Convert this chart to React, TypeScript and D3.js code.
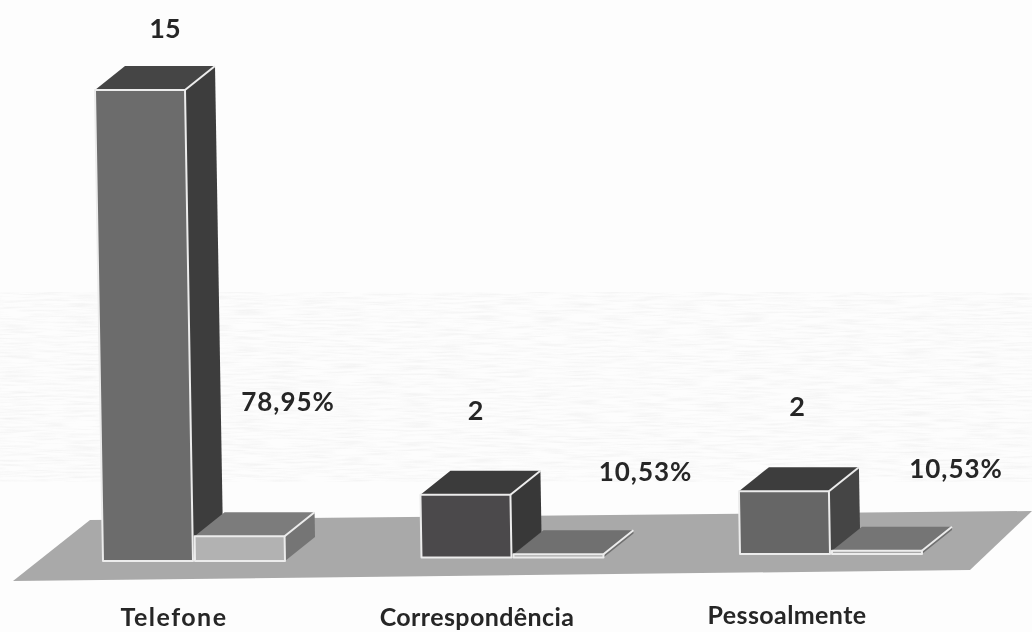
import React from "react";
import * as d3 from "d3";

const categories = ["Telefone", "Correspondência", "Pessoalmente"];
const counts = [15, 2, 2];
const shares = [0.7895, 0.1053, 0.1053];
const countLabels = ["15", "2", "2"];
const shareLabels = ["78,95%", "10,53%", "10,53%"];

const countFront = ["#6c6c6c", "#4c494b", "#666666"];
const countSide = ["#3e3e3e", "#393939", "#454545"];
const countTop = ["#454545", "#3b3a3a", "#3e3e3e"];
const shareFront = ["#b2b2b2", "#a8a8a8", "#a8a8a8"];
const shareSide = ["#757575", "#707070", "#707070"];
const shareTop = ["#7c7c7c", "#6f6f6f", "#747474"];

// label placement, relative to each group's left edge and baseline
const countLabelDx = [62, 54, 57];
const countLabelBaseY = [38, 420, 416];
const shareLabelDx = [185, 224, 216];
const shareLabelBaseY = [411, 481, 478];
const catLabelCx = [174, 477, 787];
const catLabelBaseY = [626, 626, 624];
const catLabelSpacing = [1.5, 0.4, 0.4];

const W = 1032;
const H = 632;
const BAR_W = 90;
const DX = 30;
const DY = -24;
const LEAN = -8 / 471; // the photographed page leans: tall bars shift left towards their top

const xScale = d3.scalePoint<string>().domain(categories).range([103, 740]);
const baseline = d3.scaleLinear().domain([103, 740]).range([561, 554]);
const heightScale = d3.scaleLinear().domain([0, 15]).range([0, 471]);

const poly = d3.line<[number, number]>().curve(d3.curveLinearClosed);
const floorPts: [number, number][] = [[13, 581], [90, 520], [1032, 511], [970, 570]];

function Box({ x, base, h, front, side, top }: { x: number; base: number; h: number; front: string; side: string; top: string }) {
  const y = base - h;
  const r = x + BAR_W;
  const off = h * LEAN;
  const s = "#ececec";
  return (
    <g stroke={s} strokeWidth={2} strokeLinejoin="round">
      <path d={poly([[x + off, y], [x + off + DX, y + DY], [r + off + DX, y + DY], [r + off, y]]) ?? ""} fill={top} stroke="none" />
      <path d={poly([[r + off, y], [r + off + DX, y + DY], [r + DX, base + DY], [r, base]]) ?? ""} fill={side} stroke="none" />
      <path d={poly([[x + off, y], [r + off, y], [r, base], [x, base]]) ?? ""} fill={front} />
      <path d={`M${r + off},${y}L${r + off + DX},${y + DY}`} fill="none" />
    </g>
  );
}

export default function App() {
  const font = "Lato, 'Open Sans', sans-serif";
  const textProps = { fontFamily: font, fontWeight: 700, fill: "#262626", textAnchor: "middle" as const };
  return (
    <svg width={W} height={H} viewBox={`0 0 ${W} ${H}`} style={{ position: "fixed", left: 0, top: 0, background: "#fdfdfd" }}>
      <defs>
        <filter id="scan" x="0" y="0" width="100%" height="100%">
          <feTurbulence type="fractalNoise" baseFrequency="0.03 0.5" numOctaves={2} seed={4} />
          <feColorMatrix values="0 0 0 0 0.55  0 0 0 0 0.55  0 0 0 0 0.55  0.9 0 0 0 -0.36" />
        </filter>
        <filter id="soft"><feGaussianBlur stdDeviation={0.6} /></filter>
        <filter id="softText"><feGaussianBlur stdDeviation={0.35} /></filter>
      </defs>
      <rect x={0} y={292} width={W} height={190} filter="url(#scan)" opacity={0.4} />
      <g filter="url(#soft)">
        <path d={poly(floorPts) ?? ""} fill="#a9a9a9" />
        {categories.map((c, i) => {
          const x = xScale(c) as number;
          const base = baseline(x);
          return (
            <g key={c}>
              <Box x={x} base={base} h={heightScale(counts[i])} front={countFront[i]} side={countSide[i]} top={countTop[i]} />
              <Box x={x + BAR_W + 2} base={base} h={heightScale(shares[i])} front={shareFront[i]} side={shareSide[i]} top={shareTop[i]} />
            </g>
          );
        })}
      </g>
      <g filter="url(#softText)">
        {categories.map((c, i) => {
          const x = xScale(c) as number;
          return (
            <g key={c} {...textProps}>
              <text x={x + countLabelDx[i]} y={countLabelBaseY[i]} fontSize={27}>{countLabels[i]}</text>
              <text x={x + shareLabelDx[i]} y={shareLabelBaseY[i]} fontSize={26} letterSpacing={1}>{shareLabels[i]}</text>
              <text x={catLabelCx[i]} y={catLabelBaseY[i]} fontSize={25} letterSpacing={catLabelSpacing[i]}>{c}</text>
            </g>
          );
        })}
      </g>
    </svg>
  );
}
